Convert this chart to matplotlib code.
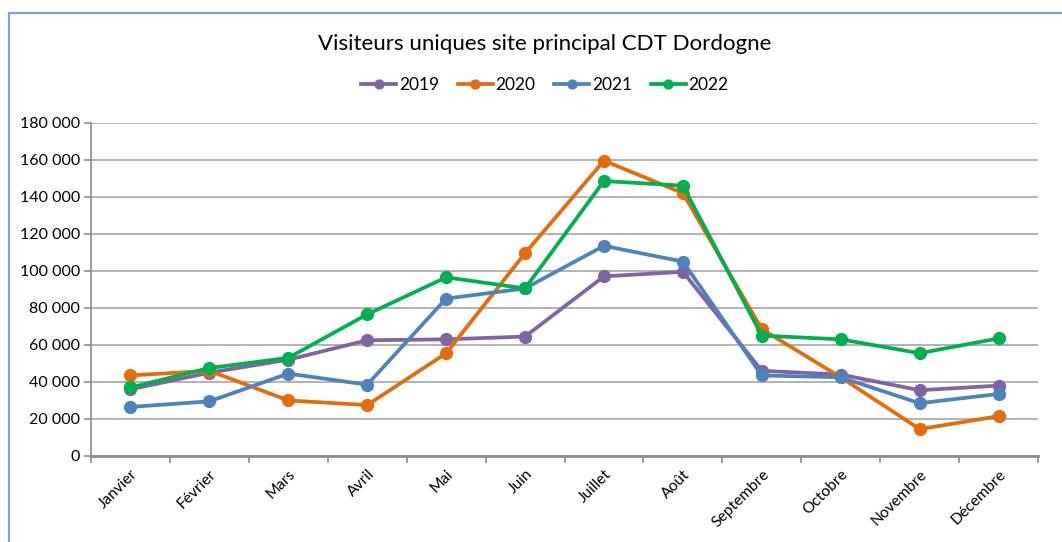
import matplotlib
matplotlib.use("Agg")
import matplotlib.pyplot as plt
from matplotlib.patches import Rectangle
from matplotlib.ticker import FuncFormatter, FixedLocator
import numpy as np

plt.rcParams["font.family"] = ["Lato", "DejaVu Sans"]

months = ["Janvier", "Février", "Mars", "Avril", "Mai", "Juin", "Juillet",
          "Août", "Septembre", "Octobre", "Novembre", "Décembre"]

v2019 = [36000, 45000, 52000, 62500, 63000, 64500, 97000, 99500, 46000, 44000, 35500, 38000]
v2020 = [43500, 46000, 30000, 27500, 55500, 109500, 159500, 142000, 68500, 42500, 14500, 21500]
v2021 = [26500, 29500, 44500, 38500, 85000, 90500, 113500, 105000, 43500, 42500, 28500, 33500]
v2022 = [37000, 47500, 53000, 76500, 96500, 90500, 148500, 146000, 65000, 63000, 55500, 63500]

series = [("2019", v2019, "#8064a2"),
          ("2020", v2020, "#e46c0a"),
          ("2021", v2021, "#4f81bd"),
          ("2022", v2022, "#00b050")]

fig = plt.figure(figsize=(10.62, 5.42), dpi=100)
ax = fig.add_axes([0.0857, 0.1587, 0.8917, 0.6149])

# outer chart border (only top/left visible in reference)
fig.patches.append(Rectangle((9 / 1062, -0.05), 1.2, 1 - 13 / 542 + 0.05,
                             transform=fig.transFigure, fill=False,
                             edgecolor="#7f9fd6", linewidth=1.6))

x = np.arange(len(months))
for name, vals, col in series:
    ax.plot(x, vals, color=col, linewidth=2.7, marker="o", markersize=8.5,
            label=name, solid_joinstyle="round")

ax.set_xlim(-0.5, len(months) - 0.5)
ax.set_ylim(0, 180000)
ax.set_yticks(np.arange(0, 180001, 20000))
ax.yaxis.set_major_formatter(FuncFormatter(lambda v, p: f"{int(v):,}".replace(",", " ")))
ax.grid(axis="y", color="#a6a6a6", linewidth=1.2)
ax.set_axisbelow(True)

ax.xaxis.set_major_locator(FixedLocator(np.arange(-0.5, len(months), 1)))
ax.xaxis.set_minor_locator(FixedLocator(x))
ax.set_xticklabels([])
ax.set_xticklabels(months, minor=True, rotation=45, ha="right", va="top",
                   rotation_mode="anchor", fontsize=11.2)
ax.tick_params(axis="x", which="major", length=5, color="#8c8c8c", width=1.2)
ax.tick_params(axis="x", which="minor", length=0, pad=8)
ax.tick_params(axis="y", length=5, color="#8c8c8c", width=1.2, labelsize=11.5, pad=3)

for s in ["top", "right"]:
    ax.spines[s].set_visible(False)
ax.spines["left"].set_color("#8c8c8c")
ax.spines["left"].set_linewidth(1.2)
ax.spines["bottom"].set_color("#8c8c8c")
ax.spines["bottom"].set_linewidth(2)

fig.text(0.513, 0.918, "Visiteurs uniques site principal CDT Dordogne",
         ha="center", va="center", fontsize=16)
fig.legend(loc="center", bbox_to_anchor=(0.513, 0.843), ncol=4, frameon=False,
           fontsize=12.5, handlelength=2.0, handletextpad=0.15, columnspacing=1.1,
           markerscale=0.75)

fig.savefig("out.png", dpi=100)
